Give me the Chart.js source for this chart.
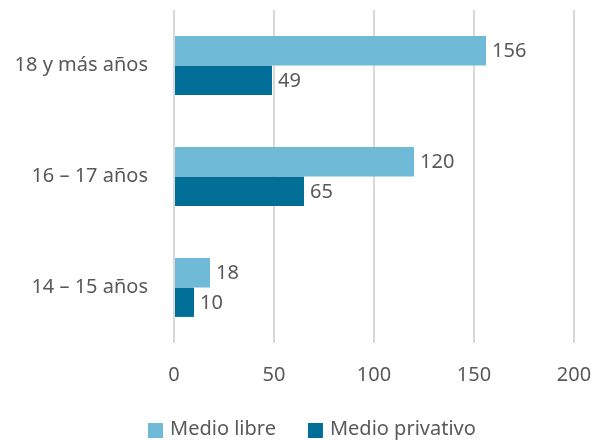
<!DOCTYPE html>
<html><head><meta charset="utf-8">
<script src="https://cdn.jsdelivr.net/npm/chart.js@4"></script>
<style>html,body{margin:0;padding:0;background:#fff}#wrap{width:594px;height:440px}</style>
</head><body><div id="wrap"><canvas id="c" width="594" height="440"></canvas></div>
<script>
const categories = ["18 y más años", "16 – 17 años", "14 – 15 años"];
const medioLibre = [156, 120, 18];
const medioPrivativo = [49, 65, 10];
const xTicks = [0, 50, 100, 150, 200];

const FONT = "'Noto Sans', sans-serif";
const TXT = '#595959';
const FS = 20;

const labelPlugin = {
  id: 'labels',
  afterDatasetsDraw(chart) {
    const ctx = chart.ctx;
    ctx.save();
    ctx.font = FS + 'px ' + FONT;
    ctx.fillStyle = TXT;
    ctx.textBaseline = 'middle';
    ctx.textAlign = 'left';
    chart.data.datasets.forEach((ds, i) => {
      chart.getDatasetMeta(i).data.forEach((bar, j) => {
        ctx.fillText(String(ds.data[j]), bar.x + 6, bar.y + 1);
      });
    });
    ctx.restore();
  }
};

const legendPlugin = {
  id: 'customLegend',
  afterDraw(chart) {
    const ctx = chart.ctx;
    ctx.save();
    ctx.font = FS + 'px ' + FONT;
    ctx.textBaseline = 'middle';
    ctx.textAlign = 'left';
    const y = 429;
    let x = 148;
    chart.data.datasets.forEach((ds) => {
      ctx.fillStyle = ds.backgroundColor;
      ctx.fillRect(x, y - 6, 15, 15);
      x += 22;
      ctx.fillStyle = TXT;
      ctx.fillText(ds.label, x, y);
      x += ctx.measureText(ds.label).width + 32;
    });
    ctx.restore();
  }
};

new Chart(document.getElementById('c'), {
  type: 'bar',
  data: {
    labels: categories,
    datasets: [
      { label: 'Medio libre', data: medioLibre, backgroundColor: '#6fbad6', categoryPercentage: 0.53, barPercentage: 1 },
      { label: 'Medio privativo', data: medioPrivativo, backgroundColor: '#006e96', categoryPercentage: 0.53, barPercentage: 1 }
    ]
  },
  options: {
    indexAxis: 'y',
    responsive: false,
    animation: false,
    devicePixelRatio: 1,
    layout: { padding: { left: 0, right: 20, top: 10, bottom: 0 } },
    plugins: {
      legend: { display: false },
      tooltip: { enabled: false }
    },
    scales: {
      x: {
        min: 0, max: 200,
        afterBuildTicks(axis) { axis.ticks = xTicks.map(v => ({ value: v })); },
        grid: { color: '#d9d9d9', lineWidth: 2, drawTicks: false },
        border: { display: false },
        ticks: { font: { family: FONT, size: FS }, color: TXT, padding: 20 },
        afterFit(axis) { axis.height = 97; axis.paddingLeft = 0; axis.paddingRight = 0; }
      },
      y: {
        grid: { display: false },
        border: { display: false },
        ticks: { font: { family: FONT, size: FS }, color: TXT, padding: 18 },
        afterFit(axis) { axis.width = 174; axis.paddingTop = 0; axis.paddingBottom = 0; }
      }
    }
  },
  plugins: [labelPlugin, legendPlugin]
});
</script></body></html>
